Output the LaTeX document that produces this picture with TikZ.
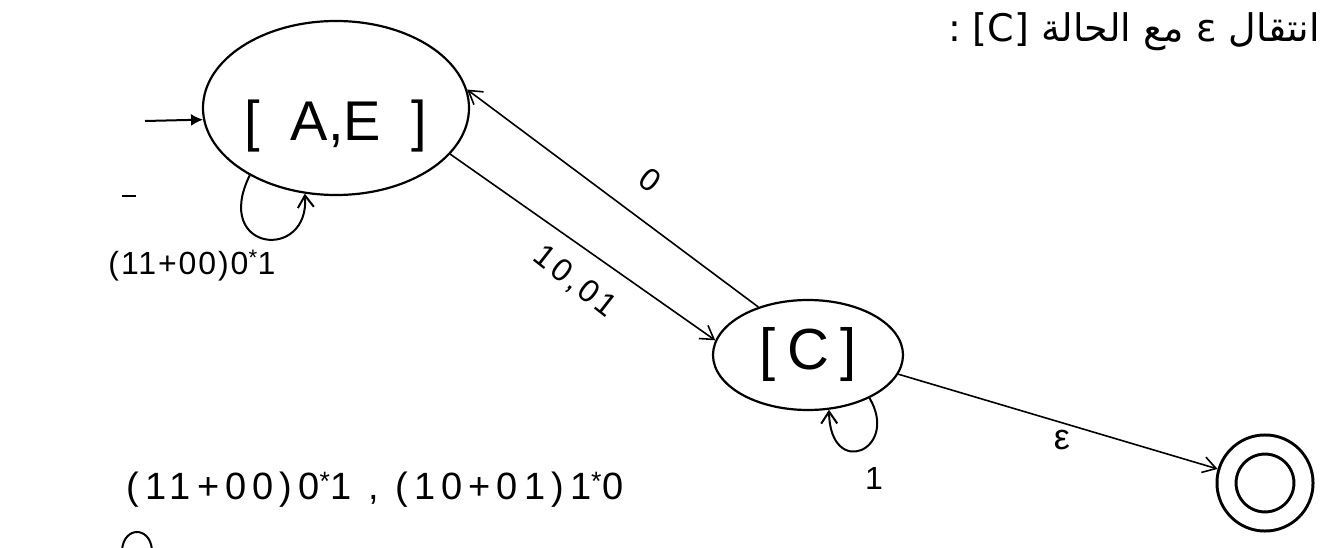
\documentclass[tikz,border=0pt]{standalone}
\usepackage{fontspec}
\setmainfont{Liberation Sans}
\newfontfamily\arabicfont[Script=Arabic]{DejaVu Sans}
\TeXXeTstate=1
\usetikzlibrary{shapes.geometric,arrows.meta}
\begin{document}
\begin{tikzpicture}[x=1pt,y=-1pt,
  state/.style={draw,ellipse,line width=2.2pt,inner sep=0pt},
  final/.style={draw,circle,line width=3pt,double,double distance=16pt,minimum size=77pt,inner sep=0pt,outer sep=11pt},
  edge/.style={line width=1.6pt,-{Straight Barb[length=13pt,width=16pt,line width=1.6pt]}},
  loopedge/.style={line width=2pt,-{Straight Barb[length=12pt,width=16pt,line width=2pt]}},
  lbl/.style={font=\fontsize{32}{36}\selectfont,inner sep=0pt},
  bigtxt/.style={font=\fontsize{56}{60}\selectfont}]
\useasboundingbox (0,0) rectangle (1322,548);
\clip (0,0) rectangle (1322,548);
% states
\node[state,minimum width=266pt,minimum height=174pt,bigtxt] (AE) at (336,108) {\rule{0pt}{76pt}[\hspace{0.55em}A,E\hspace{0.55em}]};
\node[state,minimum width=190pt,minimum height=110pt,font=\fontsize{58}{60}\selectfont] (C) at (808,355) {[\hspace{0.2em}C\hspace{0.2em}]};
\node[final] (F) at (1265,483) {};
% initial arrow
\coordinate (init) at (145,121);
\draw[line width=2pt,-{Latex[length=12pt,width=12pt]}] (init) -- (AE.185);
% edges
\draw[edge] (AE.-22) -- (C.171);
\draw[edge] (C.136) -- (AE.8);
\draw[edge] (C.-12) -- (F);
% loops
\draw[loopedge] (AE.-142) .. controls (212,252) and (310,262) .. (AE.-110);
\draw[loopedge] (C.-35) .. controls (900,450) and (830,480) .. (C.-69);
% labels
\node[lbl,rotate=-37] (l0) at (650,180) {0};
\node[lbl,rotate=-38,font=\fontsize{32}{36}\selectfont\addfontfeature{LetterSpace=12}] (l1001) at (575,282) {10,01};
\node[lbl,font=\fontsize{36}{38}\selectfont] (leps) at (1062,440) {ε};
\node[lbl] (l1) at (874,478) {1};
\node[lbl,font=\fontsize{32}{36}\selectfont\addfontfeature{LetterSpace=6}] (lAE) at (192,266) {(11+00)0\textsuperscript{*}1};
\node[lbl,font=\fontsize{38}{42}\selectfont\addfontfeature{LetterSpace=16}] (lbottom) at (375,490) {(11+00)0\textsuperscript{*}1 , (10+01)1\textsuperscript{*}0};
% heading
\node[anchor=east,inner sep=0pt,font=\fontsize{38}{44}\selectfont] (head) at (1320,32) {\arabicfont\beginR انتقال ε مع الحالة \beginL[C]\endL{} :\endR};
% stray marks
\coordinate (m1) at (122,196);
\coordinate (m2) at (136,196);
\draw[line width=2.5pt] (m1) -- (m2);
\coordinate (a1) at (122,550);
\coordinate (a2) at (152,550);
\draw[line width=2pt] (a1) .. controls (124,526) and (150,526) .. (a2);
\end{tikzpicture}
\end{document}
